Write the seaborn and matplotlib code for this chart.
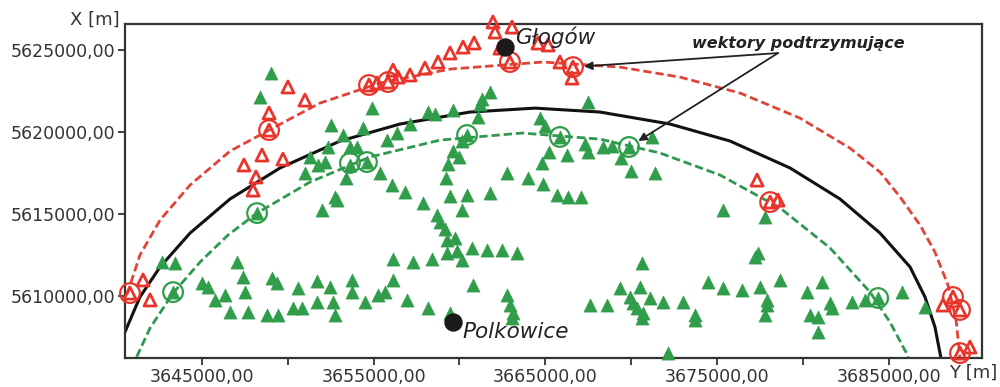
import numpy as np
import pandas as pd
import matplotlib
matplotlib.use("Agg")
import matplotlib.pyplot as plt
import seaborn as sns
from matplotlib.ticker import FuncFormatter, FixedLocator

# ---------------- data (Y = easting, X = northing, metres) ----------------
green_y = [3649020, 3648380, 3654910, 3652520, 3653220, 3654380, 3655780, 3656360, 3657120, 3652340,
           3653620, 3654030, 3651290, 3651760, 3652170, 3651000, 3653620, 3654610, 3653390, 3655370,
           3656070, 3656830, 3652750,
           3661780, 3661310, 3661200, 3667490, 3658170, 3658570, 3659620, 3661080, 3664690, 3664980,
           3660440, 3660150, 3665850, 3667310, 3667490, 3668360, 3668880, 3669870, 3671210, 3669410,
           3669990, 3671390, 3665210, 3666260, 3664810, 3659620, 3659970, 3659330, 3662770, 3663990,
           3664860, 3659220, 3659450, 3660440, 3661780, 3665680, 3666320, 3667080,
           3652870, 3651990, 3657880, 3660150, 3658690, 3658870, 3659160, 3659270, 3659740, 3660730,
           3661600, 3662480, 3663350, 3659270, 3659860, 3660150, 3657290, 3658400, 3656130, 3660790,
           3656940, 3658170, 3659450, 3662770, 3662940, 3663120, 3663060,
           3670630, 3669350, 3670510, 3667600, 3668590, 3669930, 3670110, 3670340, 3671100, 3671850,
           3673020, 3670690, 3670630, 3672140,
           3652460, 3653740, 3653740, 3656130, 3652630, 3654500, 3655250, 3655660, 3652750,
           3648210, 3642680, 3643430, 3647040, 3647390, 3645000, 3645350, 3645760, 3646340, 3647510,
           3643320, 3649080, 3649370, 3650600, 3651700, 3646640, 3647680, 3648790, 3649430, 3650300,
           3650830, 3651700,
           3675350, 3677790, 3677390, 3677210, 3674470, 3675350, 3676450, 3677500, 3678670, 3680240,
           3681110, 3673720, 3673720, 3677910, 3677910, 3677790, 3681580, 3681700, 3680410, 3680880,
           3680880, 3682860, 3683620, 3684380, 3685770, 3687110]
green_x = [5623600, 5622140, 5621460, 5620430, 5619820, 5620250, 5619510, 5619940, 5620490, 5619090,
           5619090, 5619090, 5618480, 5617990, 5618170, 5617500, 5617990, 5618170, 5617200, 5617500,
           5616770, 5616340, 5616040,
           5622440, 5622010, 5621710, 5621830, 5621220, 5621100, 5621340, 5620920, 5620850, 5620370,
           5619820, 5619450, 5619700, 5619270, 5618780, 5619090, 5619150, 5619090, 5619700, 5618420,
           5617620, 5617500, 5618780, 5618600, 5618110, 5618840, 5618480, 5618050, 5617500, 5617200,
           5616830, 5617200, 5616100, 5616160, 5616280, 5616160, 5616040, 5616040,
           5615850, 5615240, 5615670, 5615240, 5614940, 5614510, 5614090, 5613420, 5613540, 5612930,
           5612810, 5612810, 5612620, 5612620, 5612740, 5612200, 5612070, 5612260, 5612260, 5610670,
           5609760, 5609270, 5608960, 5610060, 5609450, 5608960, 5608660,
           5612010, 5610490, 5610550, 5609450, 5609450, 5609940, 5609570, 5609270, 5609880, 5609630,
           5609630, 5608960, 5608660, 5606520,
           5610550, 5610980, 5610240, 5610980, 5609630, 5609630, 5610060, 5610240, 5608840,
           5615060, 5612070, 5612010, 5612070, 5611160, 5610790, 5610550, 5609760, 5610060, 5610240,
           5610240, 5611100, 5610790, 5610490, 5610920, 5609020, 5609020, 5608840, 5608840, 5609270,
           5609270, 5609630,
           5615240, 5614820, 5612620, 5612380, 5610850, 5610490, 5610370, 5610550, 5610980, 5610240,
           5610850, 5608840, 5608540, 5609760, 5609450, 5608840, 5609570, 5609270, 5608840, 5608720,
           5607810, 5609630, 5609760, 5609880, 5610240, 5609330]

red_y = [3650010, 3651000, 3648910, 3648910, 3648500, 3649720, 3647450, 3648150, 3647980, 3654730,
         3655200, 3655840, 3656130, 3656420, 3657120, 3657990, 3658750, 3659450, 3660210, 3660850,
         3661950, 3662070, 3662360, 3663060, 3662940, 3664570, 3665160, 3665850, 3666610, 3666550,
         3677330, 3678550, 3678090, 3640810, 3641570, 3641980, 3688160, 3688740, 3689150, 3689150,
         3689730]
red_x = [5622750, 5621950, 5621160, 5620120, 5618600, 5618350, 5617990, 5617260, 5616460, 5622870,
         5622990, 5623050, 5623780, 5623350, 5623480, 5623900, 5624270, 5624820, 5625180, 5625430,
         5626710, 5626100, 5625120, 5626400, 5624270, 5625430, 5625310, 5624270, 5623960, 5623290,
         5617070, 5615850, 5615730, 5610180, 5610980, 5609760, 5609450, 5609940, 5609150, 5606520,
         5606890]

# support vectors
sv_green_y = [3643320, 3648210, 3653620, 3654610, 3660440, 3665850, 3669870, 3684380]
sv_green_x = [5610240, 5615060, 5618110, 5618170, 5619820, 5619700, 5619090, 5609880]
sv_red_y = [3640810, 3648910, 3654730, 3655840, 3662940, 3666610, 3678090, 3688740, 3689150, 3689150]
sv_red_x = [5610180, 5620120, 5622870, 5623050, 5624270, 5623960, 5615730, 5609940, 5609150, 5606520]

# decision boundary and margins
black_y = [3640520, 3641390, 3642560, 3644310, 3646640, 3649550, 3653040, 3656540, 3660610, 3664400,
           3668180, 3672260, 3675760, 3679250, 3682160, 3684490, 3686240, 3687110, 3687690, 3688040]
black_x = [5607810, 5609940, 5611770, 5613840, 5615920, 5617810, 5619450, 5620490, 5621220, 5621460,
           5621220, 5620490, 5619450, 5617810, 5615920, 5613840, 5611770, 5609940, 5608110, 5606220]
gmarg_y = [3640930, 3641220, 3641980, 3643320, 3644890, 3646520, 3648210, 3651290, 3654790, 3658870,
           3663640, 3668180, 3671680, 3675170, 3678670, 3681580, 3683910, 3685070, 3686060, 3686290]
gmarg_x = [5605610, 5606340, 5608050, 5610180, 5612070, 5613720, 5615060, 5616950, 5618480, 5619510,
           5619940, 5619570, 5618720, 5617380, 5615370, 5612930, 5610240, 5608410, 5606460, 5605610]
rmarg_y = [3640110, 3640400, 3641390, 3642560, 3644310, 3646640, 3648910, 3651880, 3655370, 3659450,
           3664860, 3669350, 3672840, 3676340, 3679830, 3682740, 3684490, 3685660, 3686820, 3687690,
           3688450, 3688920, 3689150, 3689210]
rmarg_x = [5607930, 5609330, 5612500, 5614630, 5616770, 5618840, 5620120, 5621770, 5622990, 5623840,
           5624270, 5623960, 5623350, 5622380, 5620850, 5619020, 5617560, 5616040, 5614330, 5612680,
           5610670, 5608540, 5606220, 5605610]

cities = ["Głogów", "Polkowice"]
city_y = [3662650, 3659620]
city_x = [5625180, 5608410]

xticks_major = [3645000, 3655000, 3665000, 3675000, 3685000]
xticks_minor = [3650000, 3660000, 3670000, 3680000]
yticks = [5610000, 5615000, 5620000, 5625000]
xlim = (3640520, 3690430)
ylim = (5606220, 5626590)

GREEN = "#2f9d49"
GREEN_D = "#2e9850"
RED = "#e8342a"
RED_D = "#df4438"
DARK = "#333333"

# ---------------- plot ----------------
sns.set_style("white")
plt.rcParams['font.family'] = ['DejaVu Sans']

fig = plt.figure(figsize=(10, 3.87), dpi=100)
ax = fig.add_axes([0.125, 0.0749, 0.857, 0.8631])

sns.lineplot(x=rmarg_y, y=rmarg_x, sort=False, estimator=None, color=RED_D, lw=2.0,
             linestyle=(0, (3, 1.4)), ax=ax, zorder=2)
sns.lineplot(x=gmarg_y, y=gmarg_x, sort=False, estimator=None, color=GREEN_D, lw=2.0,
             linestyle=(0, (3, 1.4)), ax=ax, zorder=2)
sns.lineplot(x=black_y, y=black_x, sort=False, estimator=None, color="#111111", lw=2.2,
             ax=ax, zorder=2)

sns.scatterplot(x=green_y, y=green_x, marker="^", s=90, color=GREEN, edgecolor=GREEN,
                linewidth=0.4, ax=ax, zorder=3, clip_on=False)
sns.scatterplot(x=red_y, y=red_x, marker="^", s=75, facecolor="none", edgecolor=RED,
                linewidth=2.0, ax=ax, zorder=4, clip_on=False)
sns.scatterplot(x=sv_green_y, y=sv_green_x, marker="o", s=200, facecolor="none", edgecolor=GREEN,
                linewidth=1.6, ax=ax, zorder=5, clip_on=False)
sns.scatterplot(x=sv_red_y, y=sv_red_x, marker="o", s=200, facecolor="none", edgecolor=RED,
                linewidth=1.6, ax=ax, zorder=5, clip_on=False)
sns.scatterplot(x=city_y, y=city_x, marker="o", s=150, color="#1a1a1a", edgecolor="#1a1a1a",
                ax=ax, zorder=6)

ax.annotate(cities[0], xy=(city_y[0], city_x[0]), xytext=(7, 7), textcoords="offset points",
            fontsize=15.5, style="italic", color="#222222", ha="left", va="center", zorder=7)
ax.annotate(cities[1], xy=(city_y[1], city_x[1]), xytext=(7, -7), textcoords="offset points",
            fontsize=15.5, style="italic", color="#222222", ha="left", va="center", zorder=7)

# annotation "wektory podtrzymujące"
ax.text(0.786, 0.943, "wektory podtrzymujące", transform=ax.transAxes, fontsize=11.5,
        fontweight="bold", style="italic", color="#222222", ha="center", va="center")
for ty, tx in [(sv_red_y[5], sv_red_x[5]), (sv_green_y[6], sv_green_x[6])]:
    ax.annotate("", xy=(ty, tx), xytext=(0.762, 0.913), textcoords="axes fraction",
                arrowprops=dict(arrowstyle="-|>", color="#222222", lw=1.3, mutation_scale=12,
                                shrinkA=0, shrinkB=8), zorder=8)

ax.set_xlim(*xlim)
ax.set_ylim(*ylim)
ax.xaxis.set_major_locator(FixedLocator(xticks_major))
ax.xaxis.set_minor_locator(FixedLocator(xticks_minor))
ax.yaxis.set_major_locator(FixedLocator(yticks))
fmt = FuncFormatter(lambda v, p: f"{v:.2f}".replace(".", ","))
ax.xaxis.set_major_formatter(fmt)
ax.yaxis.set_major_formatter(fmt)
ax.tick_params(axis="both", which="both", direction="out", length=5, width=1.3, color=DARK,
               labelsize=12.5, labelcolor=DARK, pad=2, bottom=True, left=True)
ax.set_xlabel("")
ax.set_ylabel("")
for sp in ax.spines.values():
    sp.set_visible(True)
    sp.set_color(DARK)
    sp.set_linewidth(1.6)

fig.text(0.12, 0.948, "X [m]", fontsize=13, color=DARK, ha="right", va="center")
fig.text(0.949, 0.036, "Y [m]", fontsize=13, color=DARK, ha="left", va="center")

fig.savefig("out.png", dpi=100)
